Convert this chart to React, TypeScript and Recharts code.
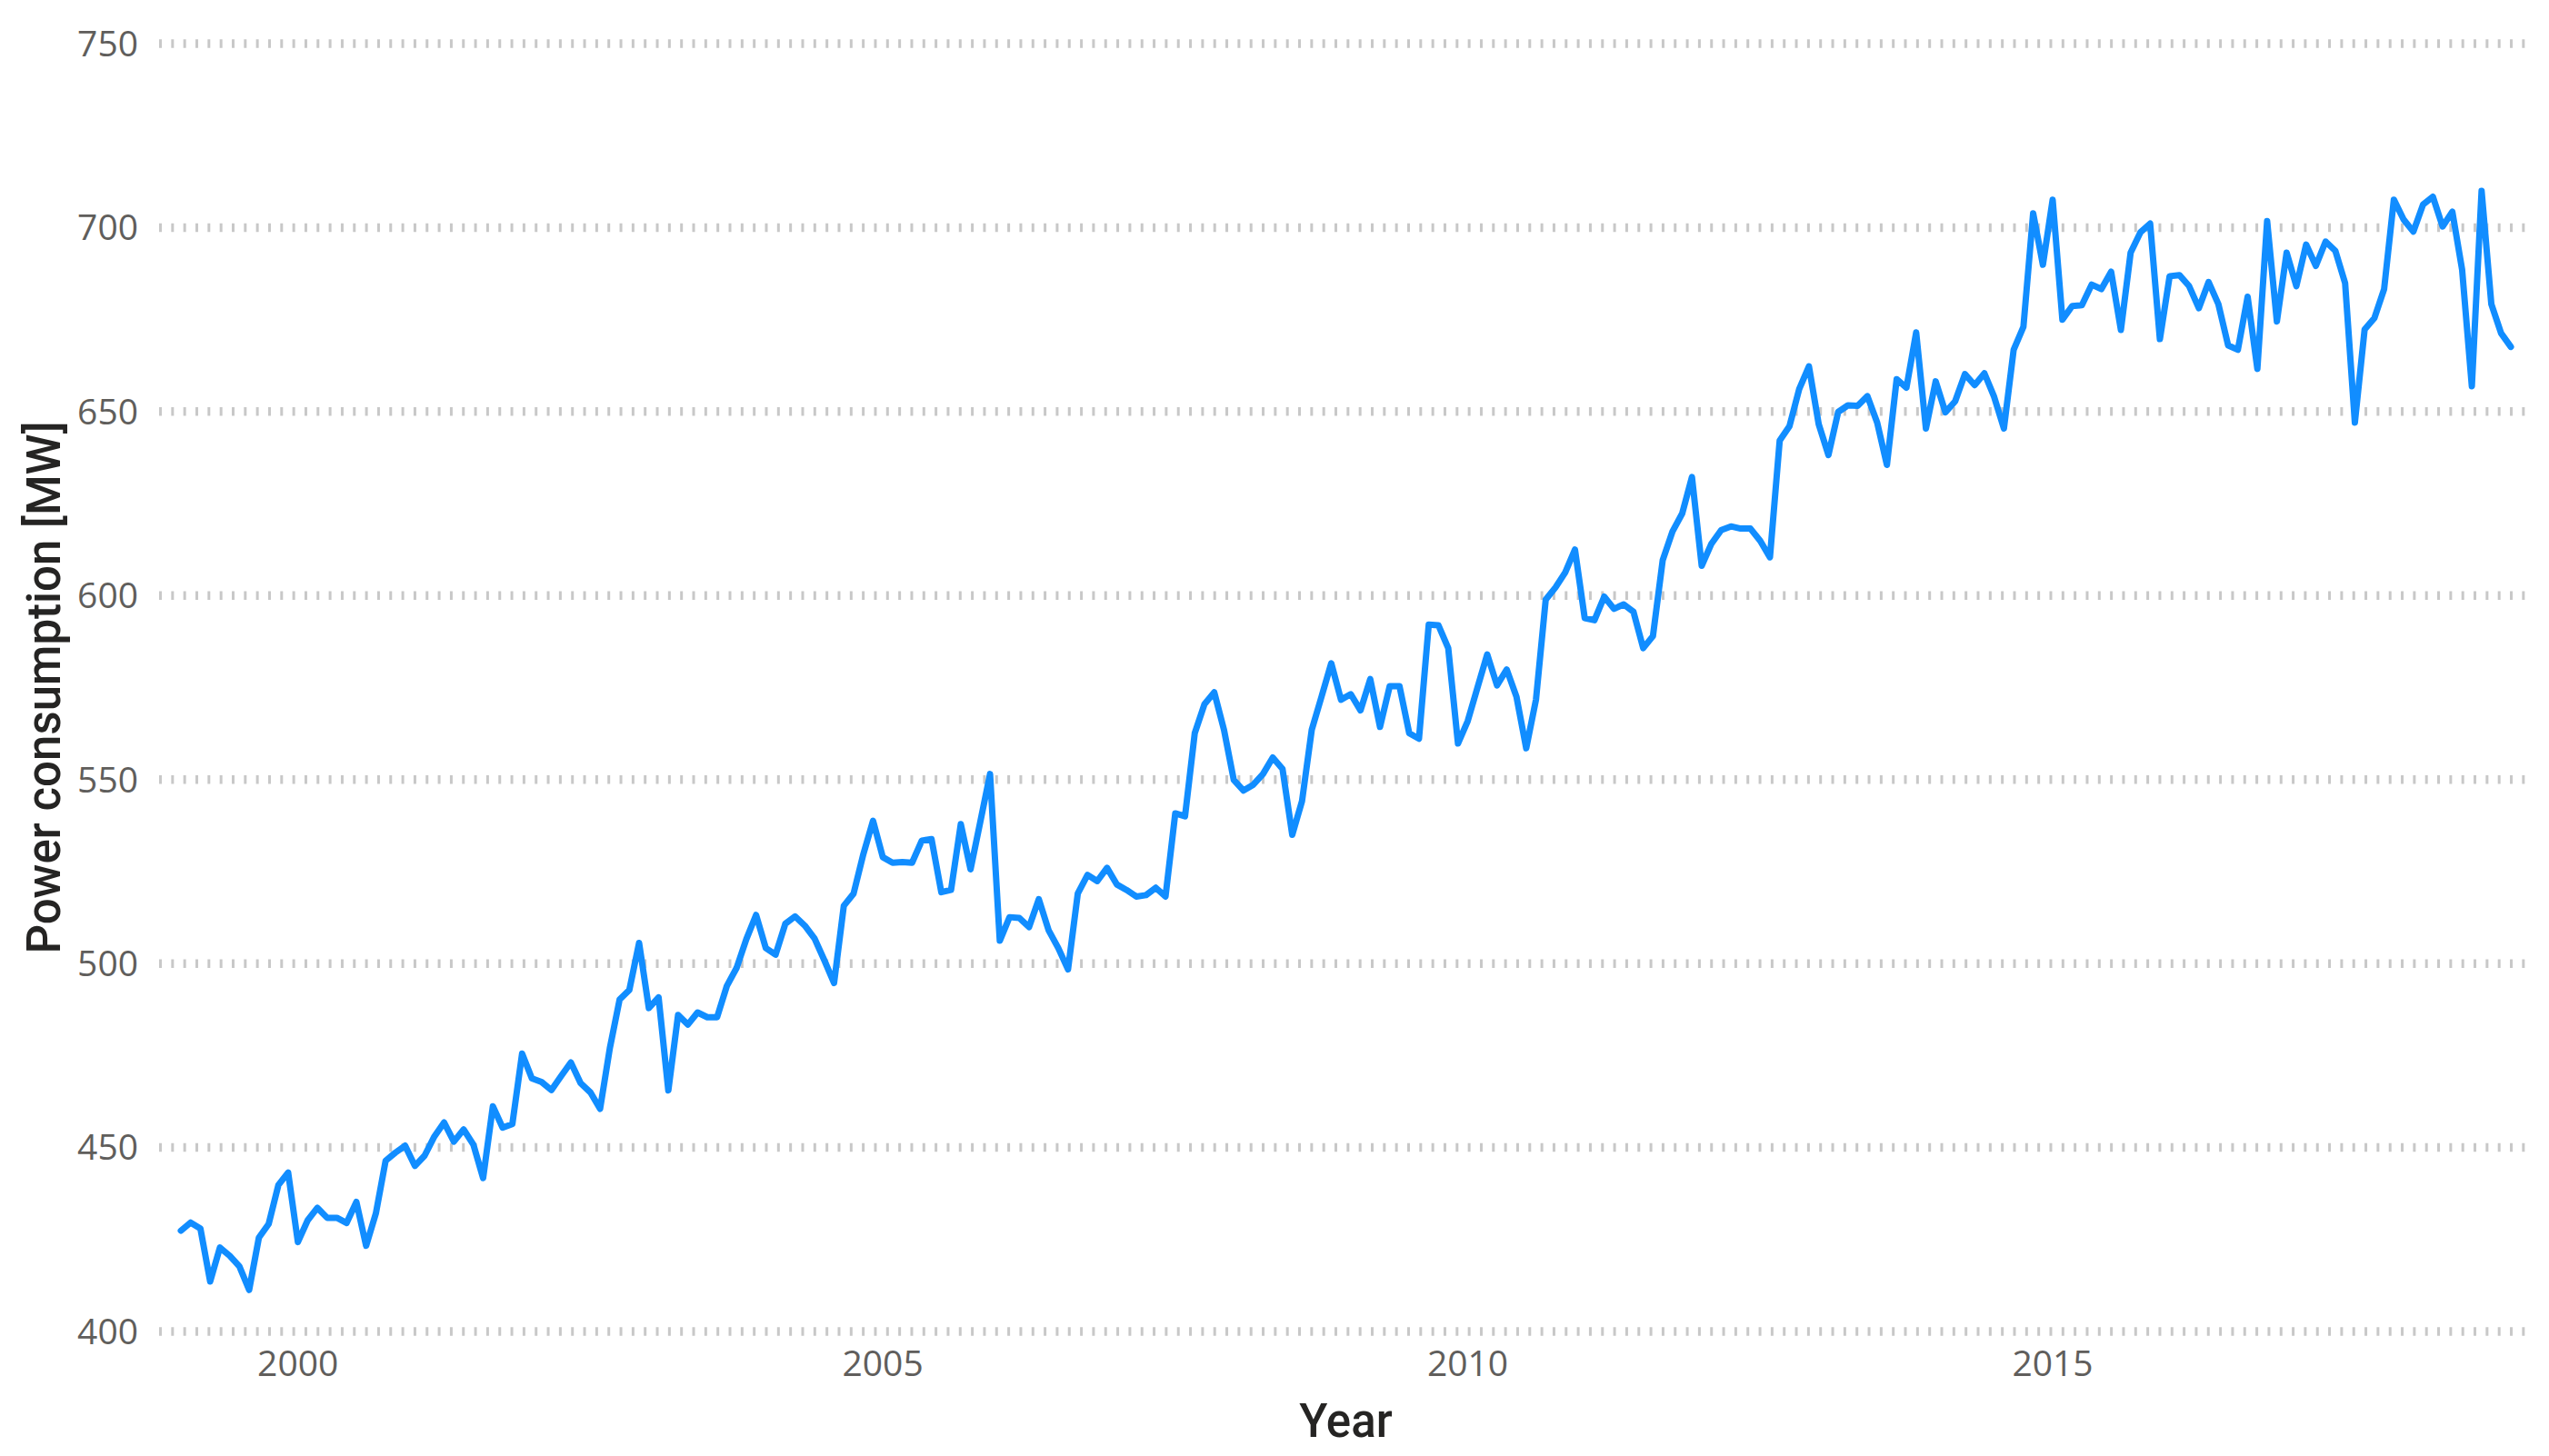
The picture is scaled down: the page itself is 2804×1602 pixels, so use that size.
import React from 'react';
import { LineChart, Line, XAxis, YAxis, CartesianGrid } from 'recharts';

const firstYear = 1999;
const monthsPerYear = 12;

// Monthly power consumption [MW], Jan 1999 .. Dec 2018
const powerMW = [
  427.4, 429.6, 428.0, 413.6, 422.8, 420.6, 417.7, 411.3, 425.5, 429.2, 439.8, 443.2,
  424.3, 430.2, 433.6, 430.9, 430.9, 429.5, 435.2, 423.3, 432.1, 446.4, 448.6, 450.5,
  445.0, 447.8, 453.0, 456.8, 451.6, 454.9, 450.8, 441.7, 461.2, 455.4, 456.4, 475.5,
  468.8, 467.8, 465.6, 469.4, 473.1, 467.5, 465.0, 460.5, 477.0, 490.2, 492.8, 505.6,
  487.9, 490.8, 465.5, 486.0, 483.4, 486.7, 485.4, 485.4, 493.9, 498.8, 506.6, 513.2,
  504.2, 502.4, 510.8, 512.8, 510.3, 506.8, 500.9, 494.7, 515.7, 519.0, 529.7, 538.8,
  528.9, 527.4, 527.6, 527.4, 533.4, 533.8, 519.4, 520.0, 537.9, 525.6, 538.5, 551.5,
  506.2, 512.6, 512.4, 509.9, 517.5, 509.1, 504.2, 498.4, 519.0, 524.1, 522.4, 526.0,
  521.5, 520.0, 518.2, 518.6, 520.6, 518.2, 540.8, 540.0, 562.6, 570.5, 573.7, 563.5,
  549.9, 547.0, 548.6, 551.5, 556.0, 552.9, 535.0, 544.1, 563.5, 572.5, 581.6, 571.7,
  573.2, 568.8, 577.3, 564.3, 575.4, 575.4, 562.6, 561.1, 592.1, 591.9, 585.7, 559.8,
  565.9, 575.0, 584.0, 575.6, 579.9, 572.5, 558.5, 571.7, 598.9, 602.2, 606.3, 612.5,
  593.9, 593.3, 599.7, 596.4, 597.6, 595.6, 585.7, 589.0, 609.6, 617.4, 622.3, 632.2,
  608.1, 614.1, 617.8, 618.8, 618.2, 618.2, 614.9, 610.4, 642.1, 646.0, 656.1, 662.3,
  646.6, 638.2, 649.9, 651.7, 651.6, 654.2, 647.0, 635.5, 658.8, 656.5, 671.5, 645.4,
  658.2, 649.8, 652.8, 660.2, 657.2, 660.4, 654.0, 645.4, 666.8, 673.0, 703.9, 689.9,
  707.6, 675.0, 678.7, 678.9, 684.5, 683.3, 688.0, 672.2, 693.2, 698.7, 701.1, 669.7,
  686.8, 687.1, 684.1, 678.1, 685.2, 679.2, 668.0, 666.8, 681.2, 661.6, 701.8, 674.5,
  693.2, 684.1, 695.4, 689.6, 696.2, 693.7, 684.9, 647.0, 672.3, 675.4, 683.3, 707.6,
  702.2, 698.9, 706.3, 708.4, 700.3, 704.3, 688.6, 656.9, 710.0, 679.2, 671.3, 667.6,
];

const xTicks = [2000, 2005, 2010, 2015];
const yTicks = [400, 450, 500, 550, 600, 650, 700, 750];
const xDomain = [1998.8135, 2019.103];
const yDomain = [400, 750];
const xTitle = 'Year';
const yTitle = 'Power consumption [MW]';

const data = powerMW.map((v, i) => ({ t: firstYear + i / monthsPerYear, mw: v }));

const tickStyle = { fill: '#605e5c', fontSize: 39, fontFamily: '"Open Sans", "Noto Sans", sans-serif' };
const titleFont = 'Roboto, "Noto Sans", sans-serif';

const XTitle = (props: any) => {
  const vb = props.viewBox || {};
  const cx = vb.x + vb.width / 2;
  return (
    <text x={cx} y={1581} textAnchor="middle" fill="#252423" fontSize={51} fontWeight={500} fontFamily={titleFont}>
      {xTitle}
    </text>
  );
};

const YTitle = (props: any) => {
  const vb = props.viewBox || {};
  const cy = vb.y + vb.height / 2;
  const bx = 66;
  return (
    <text x={bx} y={cy} transform={`rotate(-90, ${bx}, ${cy})`} textAnchor="middle" fill="#252423" fontSize={51} fontWeight={500} fontFamily={titleFont}>
      {yTitle}
    </text>
  );
};

export default function App() {
  return (
    <div style={{ position: 'absolute', left: 0, top: 0, width: 2804, height: 1602, background: '#ffffff' }}>
      <LineChart width={2804} height={1602} data={data} margin={{ top: 48, right: 18, bottom: 0, left: 0 }}>
        <CartesianGrid horizontal vertical={false} stroke="#c8c8c8" strokeWidth={9.5} strokeDasharray="3 10.33" />
        <XAxis
          dataKey="t"
          type="number"
          domain={xDomain}
          ticks={xTicks}
          allowDataOverflow
          interval={0}
          axisLine={false}
          tickLine={false}
          tickSize={0}
          tickMargin={21}
          height={137}
          tick={tickStyle}
          label={XTitle}
        />
        <YAxis
          type="number"
          domain={yDomain}
          ticks={yTicks}
          allowDataOverflow
          interval={0}
          axisLine={false}
          tickLine={false}
          tickSize={0}
          tickMargin={23}
          width={175}
          tick={tickStyle}
          label={YTitle}
        />
        <Line
          type="linear"
          dataKey="mw"
          stroke="#118dff"
          strokeWidth={7}
          strokeLinejoin="round"
          strokeLinecap="round"
          dot={false}
          activeDot={false}
          isAnimationActive={false}
        />
      </LineChart>
    </div>
  );
}
